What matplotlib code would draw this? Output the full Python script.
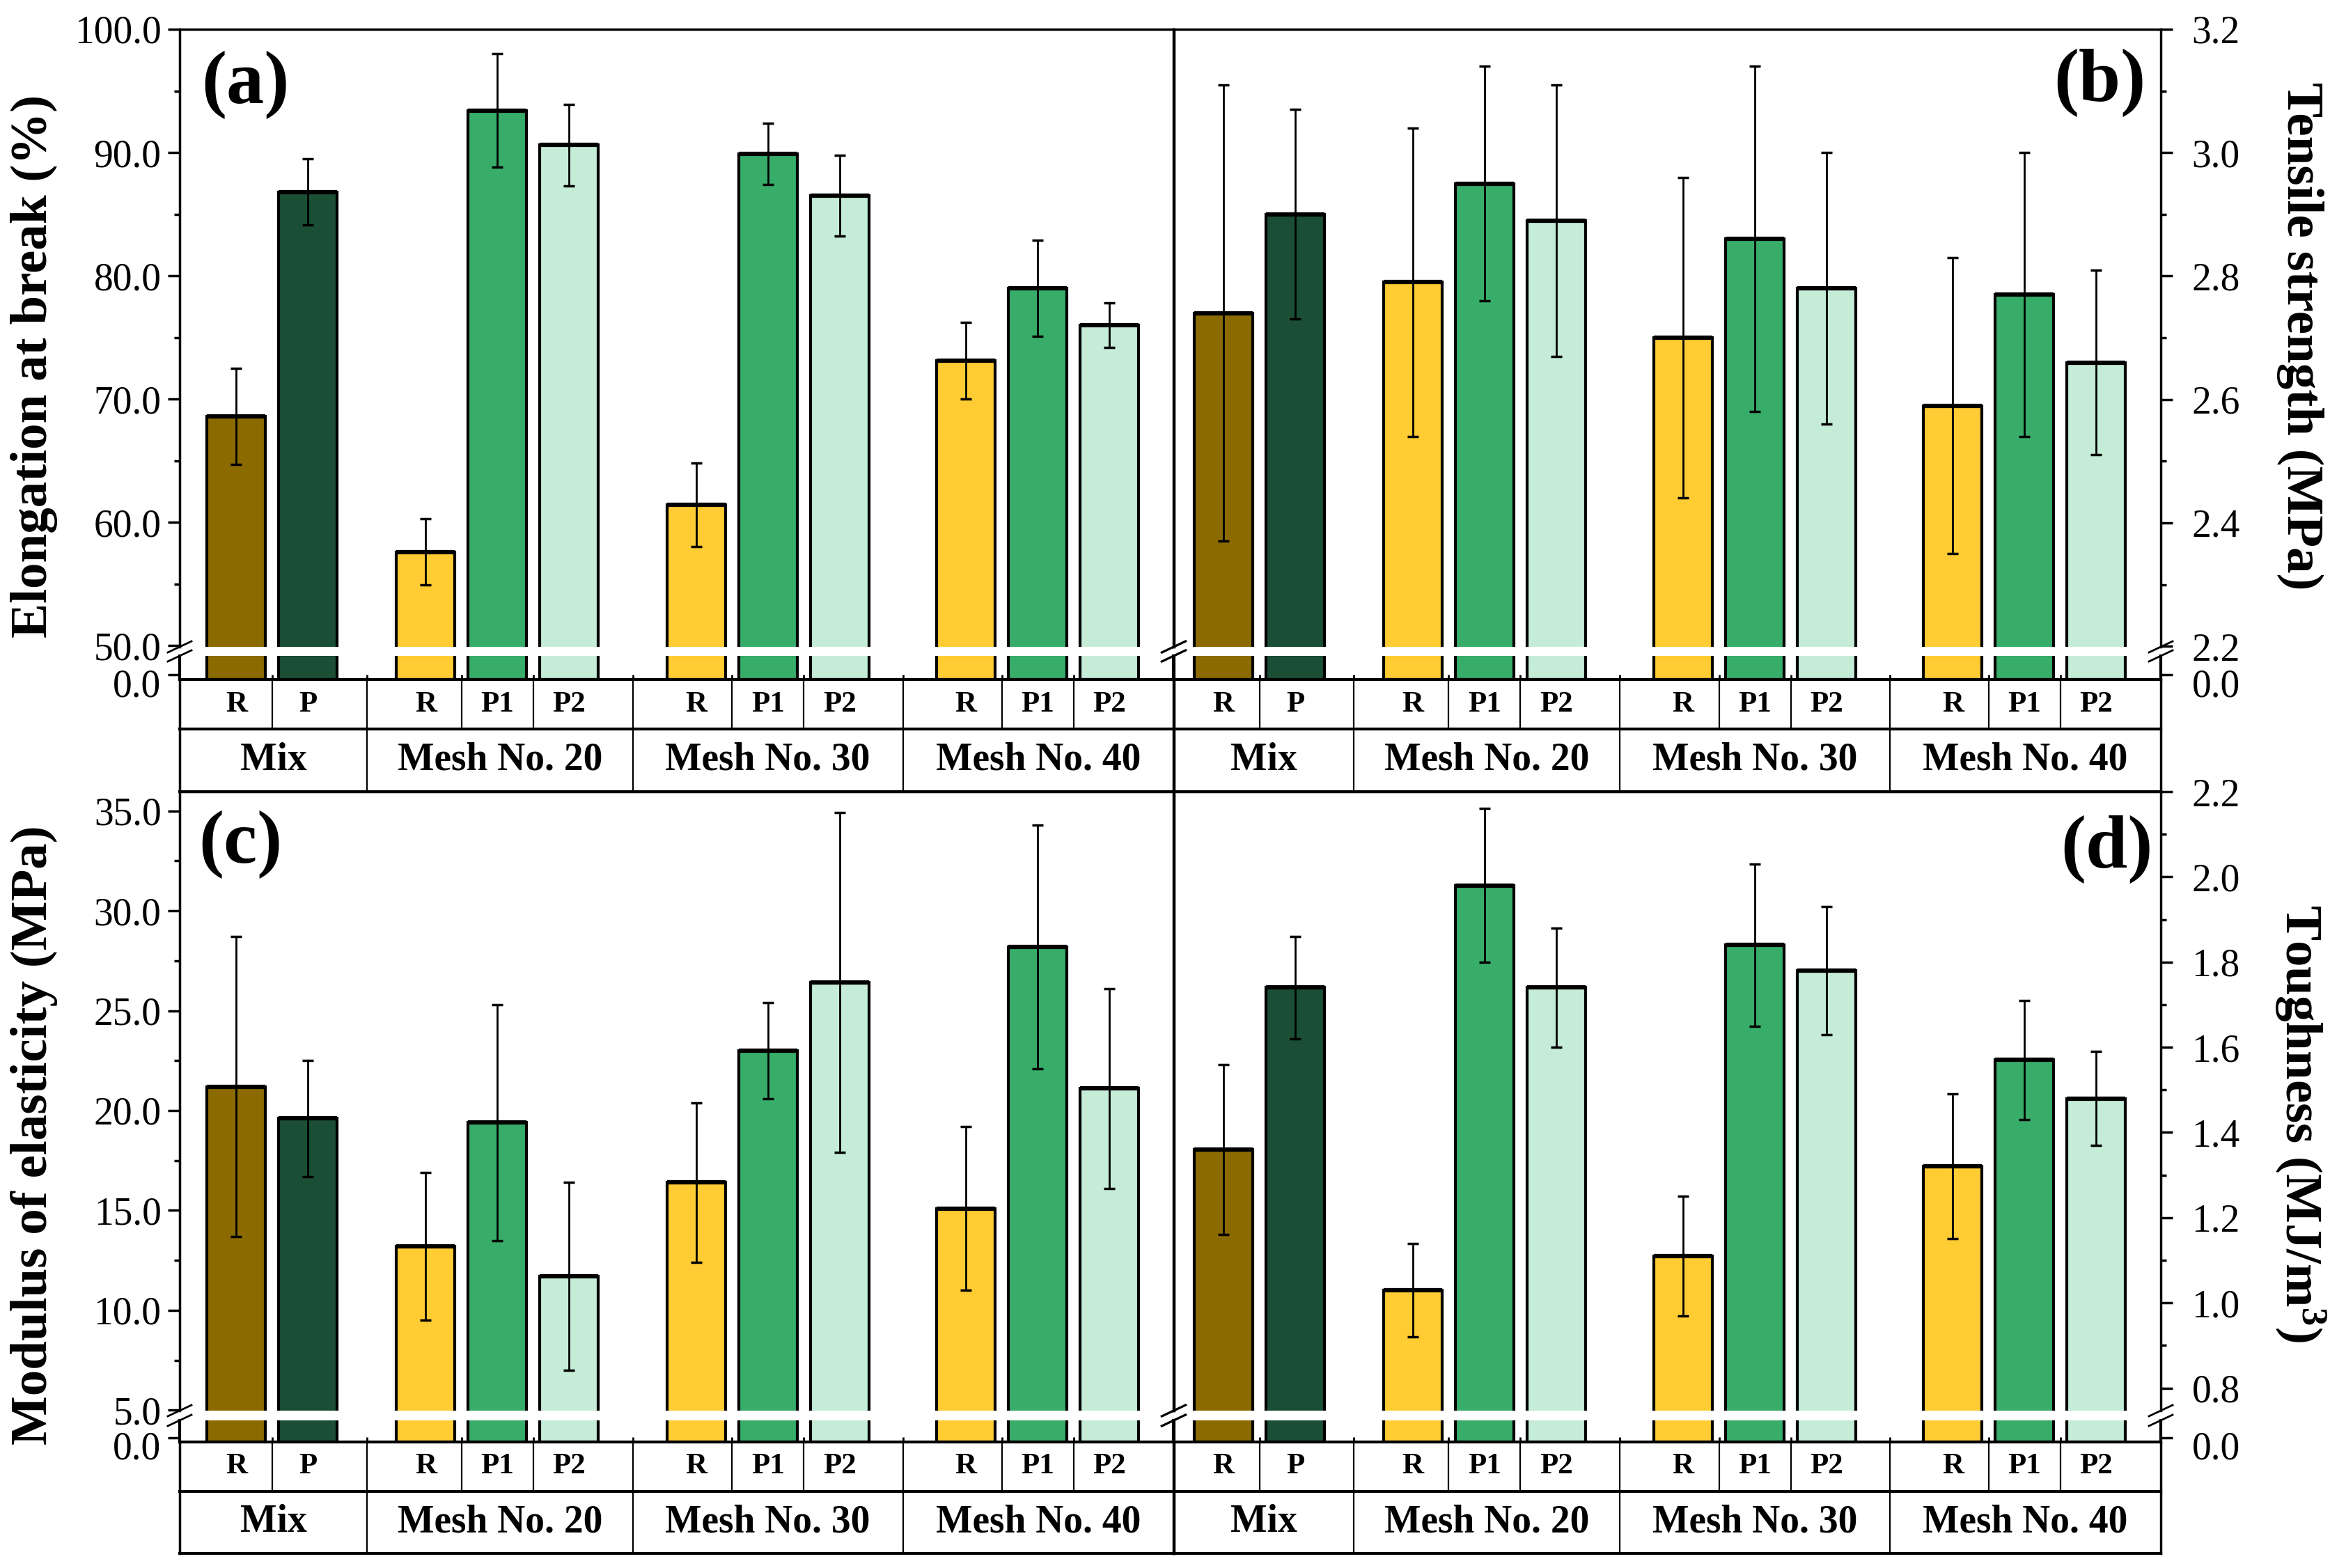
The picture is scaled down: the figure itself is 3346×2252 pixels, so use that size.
import matplotlib.pyplot as plt
from matplotlib.lines import Line2D
from matplotlib.ticker import MultipleLocator, FormatStrFormatter, FixedLocator
from matplotlib.transforms import ScaledTranslation
import numpy as np

plt.rcParams['font.family'] = ['Liberation Serif', 'DejaVu Serif']
plt.rcParams['mathtext.fontset'] = 'custom'
plt.rcParams['mathtext.rm'] = 'Liberation Serif:bold'
plt.rcParams['mathtext.bf'] = 'Liberation Serif:bold'
plt.rcParams['mathtext.it'] = 'Liberation Serif:bold'

# ---- data ----
groups = ['Mix', 'Mesh No. 20', 'Mesh No. 30', 'Mesh No. 40']
samples = [['R', 'P'], ['R', 'P1', 'P2'], ['R', 'P1', 'P2'], ['R', 'P1', 'P2']]

elong = [68.6, 86.8, 57.6, 93.4, 90.6, 61.4, 89.9, 86.5, 73.1, 79.0, 76.0]
elong_err = [3.9, 2.7, 2.7, 4.6, 3.3, 3.4, 2.5, 3.3, 3.1, 3.9, 1.8]
tensile = [2.74, 2.90, 2.79, 2.95, 2.89, 2.70, 2.86, 2.78, 2.59, 2.77, 2.66]
tensile_err = [0.37, 0.17, 0.25, 0.19, 0.22, 0.26, 0.28, 0.22, 0.24, 0.23, 0.15]
modulus = [21.2, 19.6, 13.2, 19.4, 11.7, 16.4, 23.0, 26.4, 15.1, 28.2, 21.1]
modulus_err = [7.5, 2.9, 3.7, 5.9, 4.7, 4.0, 2.4, 8.5, 4.1, 6.1, 5.0]
tough = [1.36, 1.74, 1.03, 1.98, 1.74, 1.11, 1.84, 1.78, 1.32, 1.57, 1.48]
tough_err = [0.20, 0.12, 0.11, 0.18, 0.14, 0.14, 0.19, 0.15, 0.17, 0.14, 0.11]

mix_colors = {'R': '#8B6A00', 'P': '#1A4F35'}
mesh_colors = {'R': '#FFCC33', 'P1': '#38AD6A', 'P2': '#C5ECD6'}

# ---- layout (pixels of the output image) ----
W, H = 3346, 2252
group_gap = [1.64, 1.77, 1.76]
bar_w = 0.815

def fx(p):
    return p / W

def fy(p):
    return 1 - p / H

# bar positions
xpos, bounds_in, bounds_grp = [], [], []
cur = 0.0
for i, s in enumerate(samples):
    if i:
        bounds_grp.append(cur + group_gap[i - 1] / 2)
        cur += group_gap[i - 1]
    for j in range(len(s)):
        xpos.append(cur + j)
        if j:
            bounds_in.append(cur + j - 0.5)
    cur += len(s) - 1
xpos = np.array(xpos)

bar_colors = []
for i, s in enumerate(samples):
    for lab in s:
        bar_colors.append(mix_colors[lab] if i == 0 else mesh_colors[lab])

fig = plt.figure(figsize=(W / 100, H / 100), dpi=100)

rows = {'top': dict(main=(42, 929), stub=(942, 976), table=(976, 1137)),
        'bot': dict(main=(1137, 2026), stub=(2040, 2071), table=(2071, 2231))}
cols = {'left': dict(x=(258, 1685), xlim=(-0.79, 13.06)),
        'right': dict(x=(1686, 3103), xlim=(-0.69, 13.07))}

SP = 2.5


def add_ax(c, span):
    (l, r), (t, b) = c['x'], span
    return fig.add_axes([fx(l), fy(b), fx(r) - fx(l), (b - t) / H])


def brk(xp, yt, yb):
    for yp in (yt, yb):
        fig.add_artist(Line2D([fx(xp - 17), fx(xp + 17)], [fy(yp + 8), fy(yp - 8)],
                              color='k', lw=2))


def panel(colkey, rowkey, vals, errs, lo, hi, major, minor):
    c, rw = cols[colkey], rows[rowkey]
    side = 'left' if colkey == 'left' else 'right'
    pad = 7 if side == 'left' else 20
    vals = np.array(vals)

    # main (upper) segment
    ax = add_ax(c, rw['main'])
    ax.set_xlim(*c['xlim'])
    ax.set_ylim(lo, hi)
    ax.bar(xpos, vals, width=bar_w, color=bar_colors, edgecolor='k', linewidth=3, zorder=2)
    ax.hlines(vals, xpos - bar_w / 2, xpos + bar_w / 2, colors='k', lw=4.5, zorder=3)
    ax.errorbar(xpos, vals, yerr=errs, fmt='none', ecolor='k', elinewidth=2,
                capsize=5.5, capthick=2.5, zorder=4)
    ax.spines['bottom'].set_visible(False)
    for s in ['top', 'left', 'right']:
        ax.spines[s].set_linewidth(SP)
    ax.set_xticks([])
    ax.yaxis.set_ticks_position(side)
    ax.yaxis.set_major_locator(MultipleLocator(major))
    ax.yaxis.set_minor_locator(MultipleLocator(minor))
    ax.yaxis.set_major_formatter(FormatStrFormatter('%.1f'))
    ax.tick_params(axis='y', which='major', direction='out', length=12, width=2.5,
                   labelsize=40, pad=pad)
    ax.tick_params(axis='y', which='minor', direction='out', length=6, width=2.5)

    # stub (lower) segment holding the zero, close to the table
    rt = 0.08 * (hi - lo)
    axs = add_ax(c, rw['stub'])
    axs.set_xlim(*c['xlim'])
    axs.set_ylim(-0.2 * rt, 0.8 * rt)
    axs.bar(xpos, vals, bottom=-0.2 * rt, width=bar_w, color=bar_colors, edgecolor='k',
            linewidth=3, zorder=2)
    axs.spines['top'].set_visible(False)
    for s in ['bottom', 'left', 'right']:
        axs.spines[s].set_linewidth(3)
    axs.yaxis.set_ticks_position(side)
    axs.set_yticks([0])
    axs.yaxis.set_major_formatter(FormatStrFormatter('%.1f'))
    axs.tick_params(axis='y', direction='out', length=12, width=2.5, labelsize=40, pad=pad)
    # the zero label sits a little below its tick, as in the original
    shift = ScaledTranslation(0, -8 / 72, fig.dpi_scale_trans)
    for lab in axs.get_yticklabels():
        lab.set_transform(lab.get_transform() + shift)
    axs.xaxis.set_major_locator(FixedLocator(sorted(bounds_in + bounds_grp)))
    axs.tick_params(axis='x', direction='in', length=5, width=2, labelbottom=False)

    # break marks
    xl, xr = c['x']
    for xp in (xl, xr):
        brk(xp, rw['main'][1], rw['stub'][0])

    # table underneath
    axt = add_ax(c, rw['table'])
    axt.set_xlim(*c['xlim'])
    axt.set_ylim(0, 1)
    axt.axis('off')
    split = 90 / 161
    x0, x1 = c['xlim']
    for yy in (split, 0):
        axt.axhline(yy, color='k', lw=3, clip_on=False)
    for xx in (x0, x1):
        axt.axvline(xx, color='k', lw=2.5, clip_on=False)
    for xx in bounds_grp:
        axt.axvline(xx, color='k', lw=1.6)
    for xx in bounds_in:
        axt.axvline(xx, ymin=split, ymax=1, color='k', lw=1.6)
    k = 0
    edges = [x0] + bounds_grp + [x1]
    for i, s in enumerate(samples):
        for lab in s:
            axt.text(xpos[k], (1 + split) / 2, lab, ha='center', va='center',
                     fontsize=31, fontweight='bold')
            k += 1
        axt.text((edges[i] + edges[i + 1]) / 2, split / 2, groups[i], ha='center',
                 va='center', fontsize=40, fontweight='bold')
    return ax


panel('left', 'top', elong, elong_err, 49.89, 100.0, 10, 5)
panel('right', 'top', tensile, tensile_err, 2.199, 3.2, 0.2, 0.1)
panel('left', 'bot', modulus, modulus_err, 4.98, 35.96, 5, 2.5)
panel('right', 'bot', tough, tough_err, 0.747, 2.2, 0.2, 0.1)

# axis titles
fig.text(fx(49), fy(526), 'Elongation at break (%)', rotation=90, ha='center', va='center',
         fontsize=54, fontweight='bold')
fig.text(fx(3303), fy(483), 'Tensile strength (MPa)', rotation=270, ha='center', va='center',
         fontsize=54, fontweight='bold')
fig.text(fx(49), fy(1630), 'Modulus of elasticity (MPa)', rotation=90, ha='center',
         va='center', fontsize=54, fontweight='bold')
fig.text(fx(3303), fy(1614), r'Toughness (MJ/m$^{3}$)', rotation=270, ha='center',
         va='center', fontsize=54, fontweight='bold')

# panel tags
for tag, (px, py) in {'(a)': (352, 122), '(b)': (3015, 119),
                      '(c)': (345, 1213), '(d)': (3025, 1220)}.items():
    fig.text(fx(px), fy(py), tag, ha='center', va='center', fontsize=78, fontweight='bold')

fig.savefig('out.png', dpi=100)
